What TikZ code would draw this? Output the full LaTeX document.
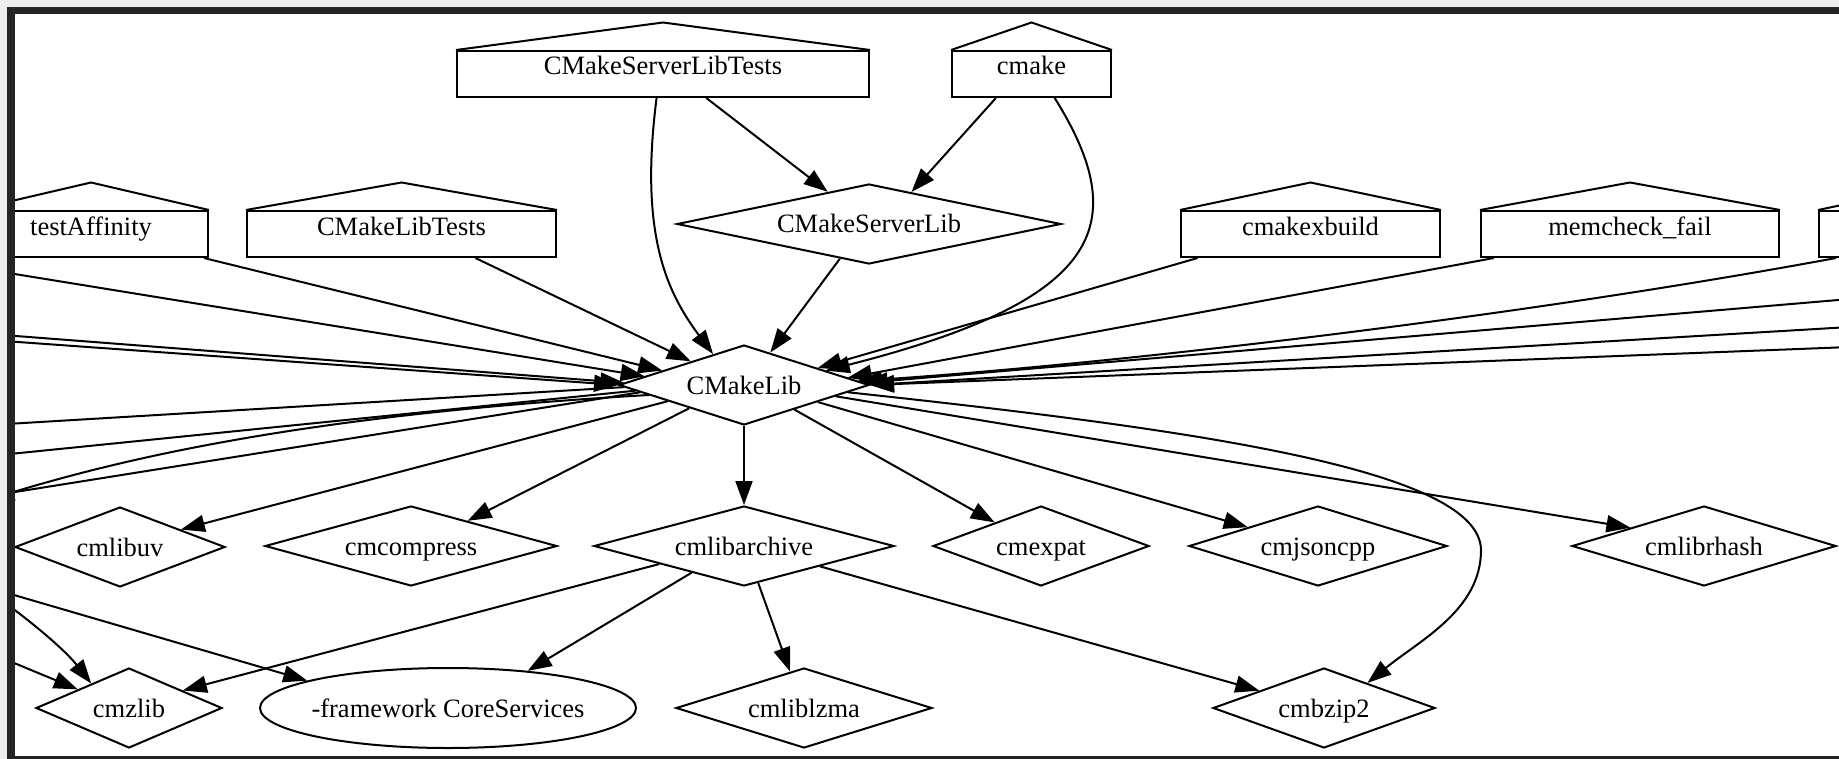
\documentclass[tikz,border=0pt]{standalone}
\usepackage{fontspec}
\setmainfont{Liberation Serif}
\usetikzlibrary{shapes.geometric,arrows.meta,calc}
\definecolor{sfondo}{HTML}{EEEEEE}
\definecolor{cornice}{HTML}{242424}

\begin{document}
\begin{tikzpicture}[x=.5pt,y=-.5pt,line width=1pt,font=\fontsize{13.25}{16}\selectfont,
  lib/.style={diamond,draw,aspect=3.5,inner sep=0pt,minimum height=40pt,text height=9pt,text depth=0pt},
  exe/.style={rectangle,draw,inner sep=0pt,minimum height=23pt,text height=6pt,text depth=5pt},
  sys/.style={ellipse,draw,inner sep=0pt,inner xsep=-3pt,minimum width=188pt,minimum height=40pt,text height=9pt,text depth=0pt},
  dep/.style={-{Triangle[length=12pt,width=8.5pt]}}]

\useasboundingbox (0,0) rectangle (1839,759);
\fill[sfondo] (0,0) rectangle (1839,759);
\fill[cornice] (7,7) rectangle (1839,759);
\fill[white] (15,14) rectangle (1839,756);

\begin{scope}
\clip (15,14) rectangle (1839,756);

% eseguibili
\node[exe,minimum width=206pt] (cslt) at (663,74) {CMakeServerLibTests};
\node[exe,minimum width=79.5pt] (cmake) at (1031.5,74) {cmake};
\node[exe,minimum width=117pt] (taff) at (91,234) {testAffinity};
\node[exe,minimum width=154.5pt] (cltests) at (401.5,234) {CMakeLibTests};
\node[exe,minimum width=129.5pt] (cxb) at (1310.5,234) {cmakexbuild};
\node[exe,minimum width=149pt] (mcf) at (1630,234) {memcheck\_fail};
\node[exe,minimum width=130pt] (altro) at (1949,234) {};
\foreach \n in {cslt,cmake,taff,cltests,cxb,mcf,altro}
  \draw (\n.north west) -- ($(\n.north)+(0,-27.5)$) -- (\n.north east);

% librerie
\node[lib,minimum width=192pt] (csl) at (869,224) {CMakeServerLib};
\node[lib,minimum width=125pt] (clib) at (744,385) {CMakeLib};
\node[lib,minimum width=105pt] (uv) at (120,547) {cmlibuv};
\node[lib,minimum width=146pt] (compr) at (411,546) {cmcompress};
\node[lib,minimum width=150pt] (arch) at (744,546) {cmlibarchive};
\node[lib,minimum width=108pt] (expat) at (1041,546) {cmexpat};
\node[lib,minimum width=129pt] (json) at (1318,546) {cmjsoncpp};
\node[lib,minimum width=132pt] (rhash) at (1704,546) {cmlibrhash};
\node[lib,minimum width=93pt] (zlib) at (129,708) {cmzlib};
\node[sys] (cs) at (448,708) {-framework CoreServices};
\node[lib,minimum width=128pt] (lzma) at (804,708) {cmliblzma};
\node[lib,minimum width=111pt] (bz2) at (1324,708) {cmbzip2};

% estremi fuori dal riquadro
\coordinate (sx1) at (-10,270);
\coordinate (sx2) at (-10,334);
\coordinate (sx3) at (-10,340);
\coordinate (su1) at (-10,425);
\coordinate (su2) at (-10,456);
\coordinate (su3) at (-10,496);
\coordinate (su4) at (-10,499);
\coordinate (gi1) at (-10,588);
\coordinate (gi2) at (-10,592);
\coordinate (gi3) at (-10,653);
\coordinate (dx1) at (1850,299);
\coordinate (dx2) at (1850,327);
\coordinate (dx3) at (1850,347);
\coordinate (giro) at (1481,550);

\draw[dep] (cslt.-29) -- (csl.142);
\draw[dep] (cmake.-146) -- (csl.37);
\draw[dep] (csl.-130) -- (clib.51);
\draw[dep] (cslt.-105) .. controls +(-17,133) and +(-48,-64) .. (clib.135);
\draw[dep] (cmake.-46) .. controls +(80,128) and +(275,-70) .. (clib.10);
\draw[dep] (cltests.-18) -- (clib.156);
\draw[dep] (taff.-12) -- (clib.170);
\draw[dep] (cxb.-168.5) -- (clib.13);
\draw[dep] (mcf.-170) -- (clib.4);
\draw[dep] (altro.-168) .. controls (1500,320) and (1100,365) .. (clib.2);
\draw[dep] (sx1) -- (clib.175);
\draw[dep] (sx2) -- (clib.179);
\draw[dep] (sx3) -- (clib.west);
\draw[dep] (dx1) -- (clib.1.5);
\draw[dep] (dx2) -- (clib.0.8);
\draw[dep] (dx3) -- (clib.east);

\draw[dep] (clib.-179) -- (su1);
\draw[dep] (clib.-177) -- (su2);
\draw[dep] (clib.-176) -- (su3);
\draw[dep] (clib.-174) .. controls (300,415) and (120,460) .. (su4);
\draw[dep] (clib.-168) -- (uv.16);
\draw[dep] (clib.-157) -- (compr.24);
\draw[dep] (clib.south) -- (arch.north);
\draw[dep] (clib.-26) -- (expat.153);
\draw[dep] (clib.-13) -- (json.165);
\draw[dep] (clib.-7) -- (rhash.166);
\draw[dep] (clib.-4) .. controls (1200,430) and (1480,470) .. (giro)
  .. controls (1481,610) and (1420,640) .. (bz2.30);

\draw[dep] (arch.-168) -- (zlib.18);
\draw[dep] (arch.-153) -- (cs.25);
\draw[dep] (arch.-69) -- (lzma.111);
\draw[dep] (arch.-15) -- (bz2.165);
\draw[dep] (gi1) -- (cs.169);
\draw[dep] (gi2) .. controls (30,620) and (65,650) .. (zlib.147);
\draw[dep] (gi3) -- (zlib.160);

\end{scope}

\end{tikzpicture}
\end{document}
